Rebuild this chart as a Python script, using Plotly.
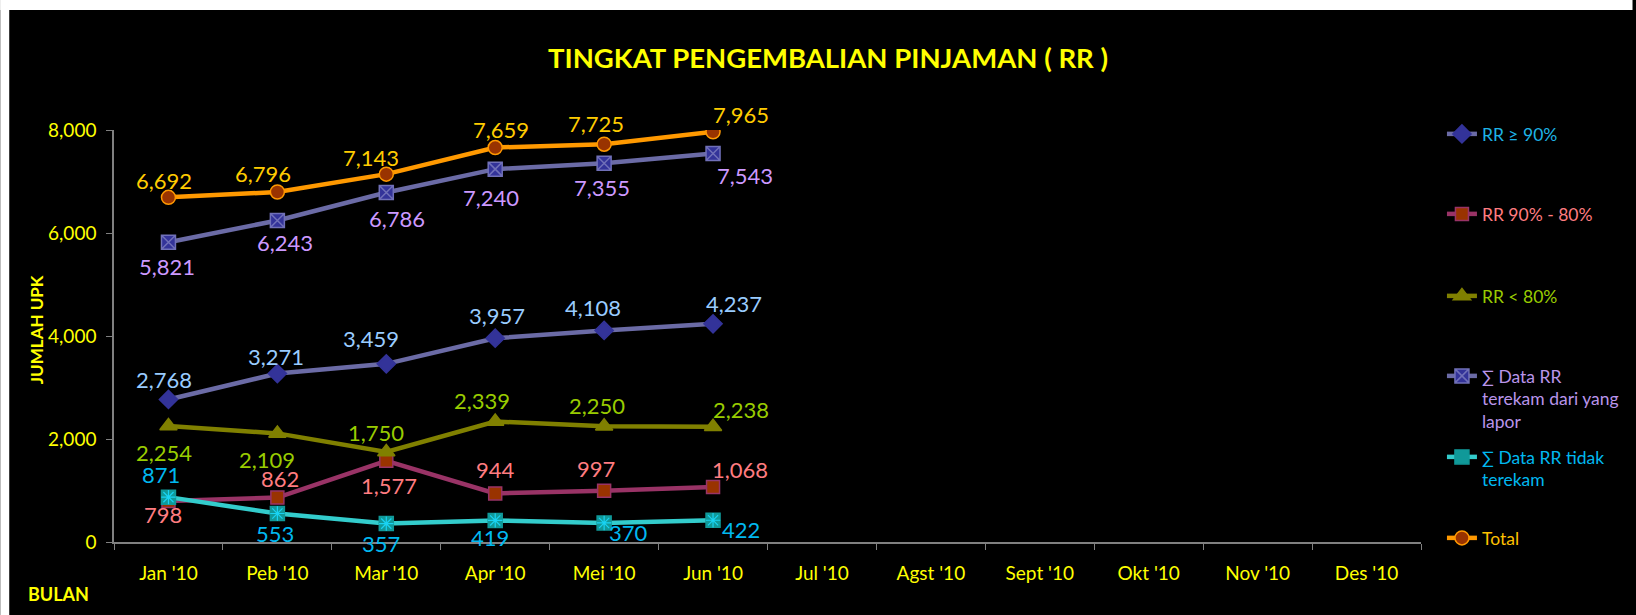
import plotly.graph_objects as go

# ---------------- data ----------------
months = ["Jan '10", "Peb '10", "Mar '10", "Apr '10", "Mei '10", "Jun '10",
          "Jul '10", "Agst '10", "Sept '10", "Okt '10", "Nov '10", "Des '10"]
rr_90_up = [2768, 3271, 3459, 3957, 4108, 4237]
rr_90_80 = [798, 862, 1577, 944, 997, 1068]
rr_below_80 = [2254, 2109, 1750, 2339, 2250, 2238]
data_terekam = [5821, 6243, 6786, 7240, 7355, 7543]
data_tidak = [871, 553, 357, 419, 370, 422]
total = [6692, 6796, 7143, 7659, 7725, 7965]

# ---------------- layout constants ----------------
W, H = 1636, 615
ML, MR, MT, MB = 114, 212, 130, 73
PW, PH = W - ML - MR, H - MT - MB
FONT = "Lato"
YELLOW = "#FFFF00"


def px_x(px):
    return (px - ML) / PW


def px_y(py):
    return (H - MB - py) / PH


series = [
    dict(name="RR ≥ 90%", y=rr_90_up, line="#6B6BA6", symbol="diamond", size=14,
         fill="#333399", mline="#333399", label="#99CCFF", legtext="#1EB4E6",
         offs=[(-4, -20), (-1, -17), (-15, -25), (2, -23), (-11, -23), (21, -20)]),
    dict(name="RR 90% - 80%", y=rr_90_80, line="#993366", symbol="square", size=13,
         fill="#993300", mline="#993366", label="#FF7C80", legtext="#FF7C80",
         offs=[(-5, 14), (3, -19), (3, 25), (0, -24), (-8, -22), (27, -18)]),
    dict(name="RR < 80%", y=rr_below_80, line="#808000", symbol="triangle-up", size=15,
         fill="#808000", mline="#808000", label="#99CC00", legtext="#99CC00",
         offs=[(-4, 27), (-10, 26), (-10, -19), (-13, -21), (-7, -21), (28, -17)]),
    dict(name="∑ Data RR<br>terekam dari yang<br>lapor", y=data_terekam, line="#6B6BA6",
         symbol="square-x", size=14, fill="#333399", mline="#7070B8", label="#CC99FF",
         legtext="#B994EA",
         offs=[(-1, 24), (8, 22), (11, 26), (-4, 28), (-2, 24), (32, 22)]),
    dict(name="∑ Data RR tidak<br>terekam", y=data_tidak, line="#33CCCC",
         symbol="square", size=14, fill="#109999", mline="#109999", label="#00B8F0",
         legtext="#00B8F0",
         offs=[(-7, -23), (-2, 20), (-5, 20), (-5, 17), (24, 10), (28, 9)]),
    dict(name="Total", y=total, line="#FF9900", symbol="circle", size=14,
         fill="#993300", mline="#FF9900", label="#FFCC00", legtext="#FFC000",
         offs=[(-4, -17), (-14, -19), (-15, -17), (6, -18), (-8, -21), (28, -17)]),
]

legend_centers = [133, 213, 295, 375, 456, 537]

fig = go.Figure()
annotations = []
layout_legends = {}

for i, s in enumerate(series):
    leg = "legend" if i == 0 else f"legend{i + 1}"
    xs = months[:len(s["y"])]
    fig.add_trace(go.Scatter(
        x=xs, y=s["y"], mode="lines+markers", name=s["name"], legend=leg,
        line=dict(color=s["line"], width=4.5),
        marker=dict(symbol=s["symbol"], size=s["size"], color=s["fill"],
                    line=dict(color=s["mline"], width=1.5)),
        hoverinfo="x+y",
    ))
    if i == 4:
        # asterisk overlay on the teal squares
        fig.add_trace(go.Scatter(
            x=xs, y=s["y"], mode="markers", showlegend=False,
            marker=dict(symbol="asterisk-open", size=12,
                        line=dict(color="#66E6E6", width=1.2)),
            hoverinfo="skip",
        ))
    for xv, yv, (dx, dy) in zip(xs, s["y"], s["offs"]):
        annotations.append(dict(
            x=xv, y=yv, xref="x", yref="y", text=f"{yv:,}", showarrow=False,
            xshift=dx, yshift=-dy, font=dict(family=FONT, size=22, color=s["label"]),
        ))
    layout_legends[leg] = dict(
        x=px_x(1445), y=px_y(legend_centers[i] - 17), xanchor="left", yanchor="top",
        valign="top", bgcolor="rgba(0,0,0,0)", borderwidth=0,
        font=dict(family=FONT, size=17.5, color=s["legtext"]),
        itemclick=False, itemdoubleclick=False,
    )

# axis titles as annotations
annotations.append(dict(
    x=px_x(36), y=px_y(330), xref="paper", yref="paper", text="<b>JUMLAH UPK</b>",
    xanchor="center", yanchor="middle",
    textangle=-90, showarrow=False, font=dict(family=FONT, size=17, color=YELLOW),
))
annotations.append(dict(
    x=px_x(58), y=px_y(594), xref="paper", yref="paper", text="<b>BULAN</b>",
    xanchor="center", yanchor="middle",
    showarrow=False, font=dict(family=FONT, size=18, color=YELLOW),
))

# white strips at the top and left edges
shapes = [
    dict(type="rect", xref="paper", yref="paper", x0=px_x(0), x1=px_x(W),
         y0=px_y(10), y1=px_y(0), fillcolor="white", line=dict(width=0), layer="above"),
    dict(type="rect", xref="paper", yref="paper", x0=px_x(0), x1=px_x(9),
         y0=px_y(H), y1=px_y(0), fillcolor="white", line=dict(width=0), layer="above"),
]

fig.update_layout(
    width=W, height=H,
    margin=dict(l=ML, r=MR, t=MT, b=MB),
    paper_bgcolor="black", plot_bgcolor="black",
    title=dict(text="<b>TINGKAT PENGEMBALIAN PINJAMAN ( RR )</b>",
               x=828 / W, xanchor="center", y=1 - 58 / H, yanchor="middle",
               font=dict(family=FONT, size=27.5, color=YELLOW)),
    annotations=annotations,
    shapes=shapes,
    showlegend=True,
    hovermode="closest",
    **layout_legends,
)

fig.update_xaxes(
    type="category", categoryorder="array", categoryarray=months,
    range=[-0.5, len(months) - 0.5],
    showline=True, linecolor="#808080", linewidth=1.5,
    ticks="outside", ticklen=6, tickcolor="#808080", tickson="boundaries",
    showgrid=False, zeroline=False, ticklabelstandoff=13,
    tickfont=dict(family=FONT, size=19, color=YELLOW),
)
fig.update_yaxes(
    range=[0, 8000], dtick=2000, tickformat=",d",
    showline=True, linecolor="#808080", linewidth=1.5,
    ticks="outside", ticklen=6, tickcolor="#808080",
    showgrid=False, zeroline=False, ticklabelstandoff=6,
    tickfont=dict(family=FONT, size=19, color=YELLOW),
)

fig.write_html(
    "out.html",
    config={"displayModeBar": False},
    post_script=("document.documentElement.style.overflow='hidden';"
                 "document.body.style.margin='0';"
                 "document.body.style.overflow='hidden';"),
)
